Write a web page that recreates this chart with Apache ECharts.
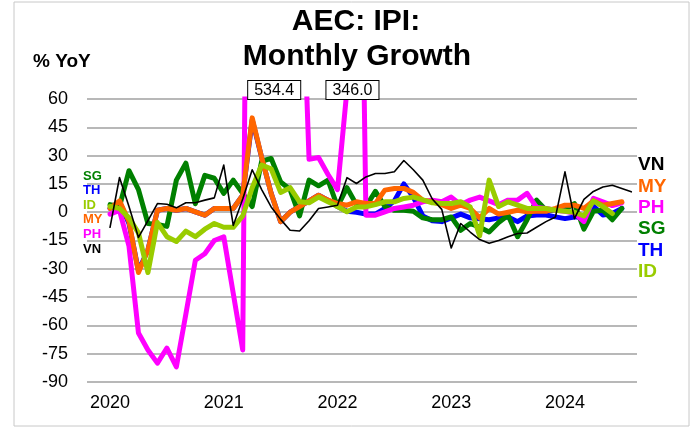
<!DOCTYPE html>
<html>
<head>
<meta charset="utf-8">
<script src="https://cdn.jsdelivr.net/npm/echarts@6/dist/echarts.min.js"></script>
<style>
  html, body { margin: 0; padding: 0; background: #ffffff; }
  #chart { width: 698px; height: 427px; }
</style>
</head>
<body>
<div id="chart"></div>
<script>
// AEC industrial production, % YoY, monthly from Jan 2020 (index 0) to Aug 2024 (index 55)
const START_YEAR = 2020;
const YEAR_LABELS = ['2020', '2021', '2022', '2023', '2024'];
const Y_MIN = -90, Y_MAX = 60, Y_STEP = 15;

const sg = [4, 3, 22, 12, -6, -6.5, -7.5, 17, 26, 4.5, 19.5, 18,
            10, 17, 10, 3, 27, 28.5, 16, 12, -2, 17, 14, 17,
            3, 13, 4, 3, 11, 3, 1, 1, 0.5, -3, -4, -4,
            -2.5, -9.6, -6, -8, -10.5, -5.5, -1.6, -13, -4, 6.4, 1, 1,
            1.5, 4.6, -9, 0.5, 1, -4, 2, null];

const th = [2, 5.5, -6, -31, -20, 1, 2, 1, 2, 0.2, -1.6, 2,
            2, 2, 9, 49, 29, 10, -5, 0, 3, 6, 9, 6.4,
            3, 0.5, 0, -1, -1, 2, 6, 15, 8, -2, -4.5, -5,
            -3, -1, -3, -3.5, -4, -3, -2.5, -5, -2, -1.5, -1.5, -2.5,
            -3.4, -2.5, -2.5, 3.2, -1.5, -0.7, 2, null];

const id = [3, 2, -3, -11, -32, -5.5, -13, -15.5, -10, -13, -9, -6,
            -8, -8, -2, 13, 25, 23, 10.5, 13, 5.5, 5, 8, 5.5,
            3, 0.2, 2.8, 2.8, 4, 5.5, 5.5, 7.3, 8, 6.5, 5, 4.6,
            4.6, 5.5, 2.8, -12.5, 17, 3, 5.5, 3.7, 2, 2, 2, 1,
            0.5, 0, -2, 6, 3, -0.7, null, null];

const my = [2, 6, -5, -32, -20, 1, 2, 1, 2, 0.2, -1.6, 2,
            2, 2, 9, 50, 29, 10, -5, 0, 3, 6, 9, 6.4,
            4.6, 3.7, 5.5, 4.6, 4.6, 11.7, 12.6, 12.6, 10.5, 6.4, 5.5, 4,
            2, 3.7, 2, -3, 2, -1, 0, 1, 0.2, 0.5, 0.5, 2,
            3.7, 3.7, 2, 6, 3.7, 4.6, 5.5, null];

const ph = [-1, 1, -18, -64, -73, -80, -72, -82, -54, -25.5, -22, -15,
            -13, -43, -73, 534.4, 300, 150, 100, 120, 170, 28, 29, 20,
            12, 65, 346.0, -1.6, -1.6, 0.2, 2, 2.8, 3.7, 5.5, 6.4, 5.5,
            8, 4, 6.4, 8, 6, 4, 6.4, 6.4, 10, 2.5, 2, 1,
            0.5, -0.5, -5, 7.3, 5.5, 3.5, 5, null];

const vn = [-8, 18.4, 3, -13.4, -4.5, 4.6, 4.2, 2.3, 5, 5, 6.4, 7.6,
            25, -7, 7, 22.5, 12, 2.8, -3.8, -9.6, -10, -4.5, 2, 2.8,
            3.7, 18.3, 15.2, 18.7, 20.5, 20.5, 21.4, 27.4, 22.5, 17, 7, 1.5,
            -19, -6, -10.5, -14.5, -16.5, -15, -13, -11.3, -11, -8, -5, -2.5,
            21.4, -3.4, 6.8, 11, 13.4, 14.3, 12.6, 10.8];

// month labels for each index (Jan 2020 ...)
const MONTHS = sg.map((_, i) => {
  const y = START_YEAR + Math.floor(i / 12);
  const m = (i % 12) + 1;
  return y + '-' + String(m).padStart(2, '0');
});

const FONT = 'Liberation Sans, Arial, Helvetica, sans-serif';

// series in drawing order (first = bottom)
const SERIES = [
  { name: 'TH', data: th, color: '#0000FF', width: 5 },
  { name: 'SG', data: sg, color: '#008000', width: 5 },
  { name: 'PH', data: ph, color: '#FF00FF', width: 5 },
  { name: 'MY', data: my, color: '#FF6600', width: 5 },
  { name: 'ID', data: id, color: '#99CC00', width: 5 },
  { name: 'VN', data: vn, color: '#000000', width: 1.6 }
];

// callouts for off-scale peaks: the largest value of each run above the axis max
function offScalePeaks(values) {
  const peaks = [];
  let best = -1;
  values.forEach((v, i) => {
    if (v != null && v > Y_MAX) {
      if (best < 0 || v > values[best]) best = i;
    } else if (best >= 0) {
      peaks.push(best);
      best = -1;
    }
  });
  if (best >= 0) peaks.push(best);
  return peaks;
}
const CALLOUT_SHIFT = [22, -4];
const phPeaks = offScalePeaks(ph);

const series = SERIES.map(s => {
  const item = {
    name: s.name,
    type: 'line',
    data: s.data.map((v, i) => [i, v]),
    showSymbol: false,
    symbol: 'none',
    connectNulls: false,
    clip: true,
    lineStyle: { color: s.color, width: s.width, join: 'round', cap: 'round' },
    itemStyle: { color: s.color },
    emphasis: { disabled: true },
    animation: false
  };
  if (s.name === 'PH') {
    item.markPoint = {
      symbol: 'rect',
      symbolSize: 0,
      silent: true,
      animation: false,
      data: phPeaks.map((idx, k) => ({
        coord: [idx, Y_MAX],
        value: ph[idx],
        label: { offset: [CALLOUT_SHIFT[k] || 0, 0] }
      })),
      label: {
        show: true,
        position: 'top',
        distance: 0,
        formatter: p => Number(p.value).toFixed(1),
        color: '#000',
        fontFamily: FONT,
        fontSize: 16,
        lineHeight: 17,
        backgroundColor: '#ffffff',
        borderColor: '#000000',
        borderWidth: 1,
        padding: [1, 6, 0, 6]
      }
    };
  }
  return item;
});

// stacked country tags on both sides
const LEFT_TAGS = [
  { t: 'SG', c: '#008000', y: 176 },
  { t: 'TH', c: '#0000FF', y: 190 },
  { t: 'ID', c: '#99CC00', y: 205 },
  { t: 'MY', c: '#FF6600', y: 219 },
  { t: 'PH', c: '#FF00FF', y: 234 },
  { t: 'VN', c: '#000000', y: 249 }
];
const RIGHT_TAGS = [
  { t: 'VN', c: '#000000', y: 165 },
  { t: 'MY', c: '#FF6600', y: 187 },
  { t: 'PH', c: '#FF00FF', y: 208 },
  { t: 'SG', c: '#008000', y: 229 },
  { t: 'TH', c: '#0000FF', y: 251 },
  { t: 'ID', c: '#99CC00', y: 272 }
];

const graphics = [
  { type: 'rect', shape: { x: 14, y: 2, width: 675, height: 424 },
    style: { fill: 'none', stroke: '#c8c8c8', lineWidth: 1 }, silent: true, z: 0 },
  { type: 'text', x: 356, y: 22, style: { text: 'AEC: IPI:', font: 'bold 30px ' + FONT,
    fill: '#000', textAlign: 'center', textVerticalAlign: 'middle' }, z: 10 },
  { type: 'text', x: 357, y: 57, style: { text: 'Monthly Growth', font: 'bold 30px ' + FONT,
    fill: '#000', textAlign: 'center', textVerticalAlign: 'middle' }, z: 10 },
  { type: 'text', x: 33, y: 62, style: { text: '% YoY', font: 'bold 19px ' + FONT,
    fill: '#000', textAlign: 'left', textVerticalAlign: 'middle' }, z: 10 }
];
LEFT_TAGS.forEach(g => graphics.push({ type: 'text', x: 83, y: g.y, z: 10,
  style: { text: g.t, font: 'bold 13px ' + FONT, fill: g.c, textAlign: 'left', textVerticalAlign: 'middle' } }));
RIGHT_TAGS.forEach(g => graphics.push({ type: 'text', x: 638, y: g.y, z: 10,
  style: { text: g.t, font: 'bold 19px ' + FONT, fill: g.c, textAlign: 'left', textVerticalAlign: 'middle' } }));

const chart = echarts.init(document.getElementById('chart'), null, { renderer: 'canvas' });
chart.setOption({
  backgroundColor: '#ffffff',
  animation: false,
  grid: { left: 87, right: 61, top: 99, bottom: 45, containLabel: false },
  xAxis: {
    type: 'value',
    min: -2.43,
    max: 55.6,
    axisLine: { show: false },
    axisTick: { show: false },
    splitLine: { show: false },
    axisLabel: {
      customValues: YEAR_LABELS.map((_, k) => k * 12),
      formatter: v => YEAR_LABELS[Math.round(v / 12)] || '',
      color: '#000',
      fontFamily: FONT,
      fontSize: 18,
      margin: 12
    }
  },
  yAxis: {
    type: 'value',
    min: Y_MIN,
    max: Y_MAX,
    interval: Y_STEP,
    axisLine: { show: false },
    axisTick: { show: false },
    splitLine: { show: true, lineStyle: { color: '#a0a0a0', width: 1.5 } },
    axisLabel: { color: '#000', fontFamily: FONT, fontSize: 18, margin: 19 }
  },
  series: series,
  graphic: graphics
});
</script>
</body>
</html>
